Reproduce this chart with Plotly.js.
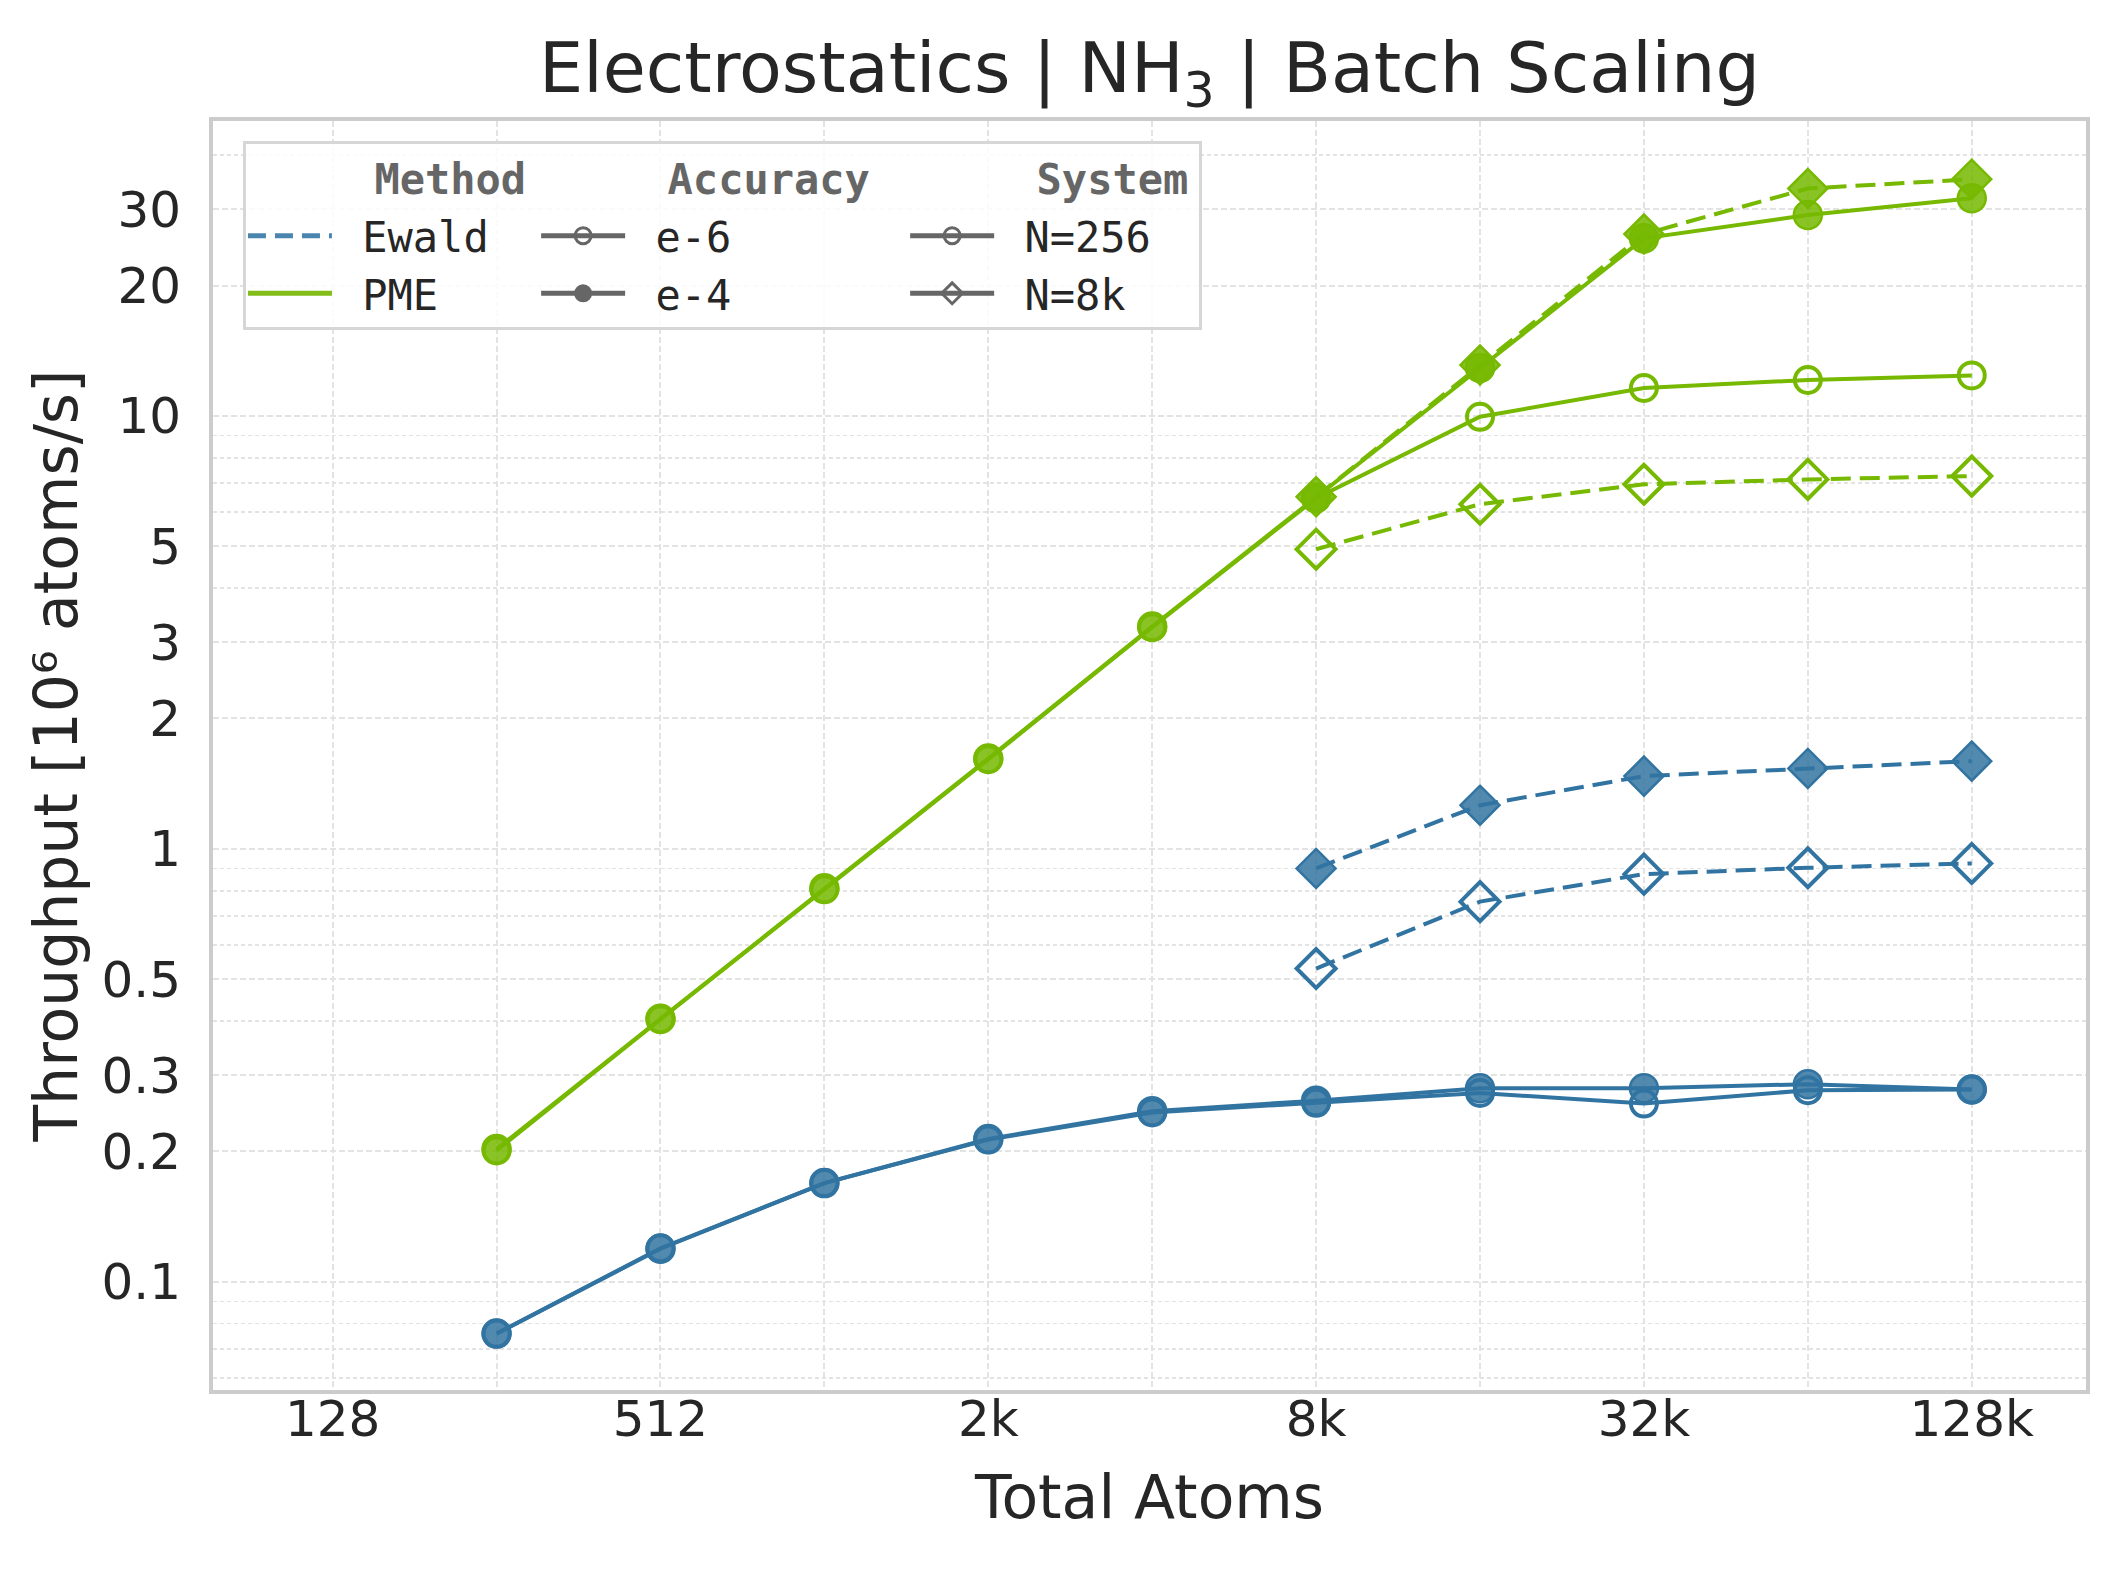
<!DOCTYPE html>
<html>
<head>
<meta charset="utf-8">
<script src="https://cdn.plot.ly/plotly-3.0.1.min.js"></script>
<style>
  html, body { margin: 0; padding: 0; background: #ffffff; }
  #plot { width: 2118px; height: 1570px; }
</style>
</head>
<body>
<div id="plot"></div>
<script>
// Total atoms (batch size x system size)
var atoms_256 = [256, 512, 1024, 2048, 4096, 8192, 16384, 32768, 65536, 131072]
var atoms_8k = [8192, 16384, 32768, 65536, 131072]

// Throughput in 10^6 atoms/s
var pme_256_e4 = [0.2025, 0.405, 0.811, 1.616, 3.26, 6.47, 12.9, 25.7, 29.1, 31.8]
var pme_256_e6 = [0.201, 0.404, 0.806, 1.61, 3.25, 6.45, 9.95, 11.6, 12.1, 12.4]
var pme_8k_e4 = [6.5, 13.1, 26.3, 33.5, 35.2]
var pme_8k_e6 = [4.92, 6.25, 6.95, 7.13, 7.26]

var ewald_256_e4 = [0.0759, 0.1192, 0.169, 0.2136, 0.2478, 0.262, 0.280, 0.280, 0.286, 0.278]
var ewald_256_e6 = [0.0759, 0.1195, 0.169, 0.213, 0.246, 0.259, 0.273, 0.258, 0.277, 0.278]
var ewald_8k_e4 = [0.901, 1.261, 1.472, 1.533, 1.594]
var ewald_8k_e6 = [0.529, 0.755, 0.874, 0.904, 0.925]

var x_tickvals = [128, 512, 2048, 8192, 32768, 131072]
var x_ticktext = ['128', '512', '2k', '8k', '32k', '128k']
var x_minorvals = [256, 1024, 4096, 16384, 65536]
var y_tickvals = [0.1, 0.2, 0.3, 0.5, 1, 2, 3, 5, 10, 20, 30]
var y_ticktext = ['0.1', '0.2', '0.3', '0.5', '1', '2', '3', '5', '10', '20', '30']
var y_minorvals = [0.06, 0.07, 0.08, 0.09, 0.4, 0.6, 0.7, 0.8, 0.9, 4, 6, 7, 8, 9, 40]

var GREEN = '#76b900'
var GREEN_FILL = 'rgba(118,185,0,0.85)'
var BLUE = '#3274a1'
var BLUE_FILL = 'rgba(50,116,161,0.85)'
var GRAY = '#666666'
var DASH = '20px,9px'

var FONT = 'DejaVu Sans, sans-serif'
var MONO = 'DejaVu Sans Mono, monospace'
var TEXT = '#262626'

function series(x, y, color, fill, dash, symbol) {
  var open = symbol.indexOf('open') >= 0
  var size = symbol.indexOf('diamond') >= 0 ? 30 : (open ? 26 : 28)
  return {
    x: x,
    y: y,
    type: 'scatter',
    mode: 'lines+markers',
    showlegend: false,
    hoverinfo: 'skip',
    line: {color: color, width: 4, dash: dash},
    marker: {
      symbol: symbol,
      size: size,
      color: open ? color : fill,
      line: {color: color, width: open ? 4 : 2.5}
    }
  }
}

// legend-only entries, one column per group
var sp = '\u00a0'
var pad = sp + sp + sp + sp + sp

function legend_entry(group, title, name, line, marker) {
  var trace = {
    x: [null],
    y: [null],
    type: 'scatter',
    mode: marker ? 'lines+markers' : 'lines',
    name: sp + name,
    legendgroup: group,
    legendgrouptitle: {text: pad + title, font: {family: MONO, size: 42, color: GRAY, weight: 'bold'}},
    line: line,
    hoverinfo: 'skip'
  }
  if (marker) trace.marker = marker
  return trace
}

var data = [
  series(atoms_256, ewald_256_e6, BLUE, BLUE_FILL, 'solid', 'circle-open'),
  series(atoms_256, ewald_256_e4, BLUE, BLUE_FILL, 'solid', 'circle'),
  series(atoms_8k, ewald_8k_e6, BLUE, BLUE_FILL, DASH, 'diamond-open'),
  series(atoms_8k, ewald_8k_e4, BLUE, BLUE_FILL, DASH, 'diamond'),
  series(atoms_256, pme_256_e6, GREEN, GREEN_FILL, 'solid', 'circle-open'),
  series(atoms_256, pme_256_e4, GREEN, GREEN_FILL, 'solid', 'circle'),
  series(atoms_8k, pme_8k_e6, GREEN, GREEN_FILL, DASH, 'diamond-open'),
  series(atoms_8k, pme_8k_e4, GREEN, GREEN_FILL, DASH, 'diamond'),

  legend_entry('method', 'Method', 'Ewald', {color: '#4a85b0', width: 5, dash: '18px,9px'}),
  legend_entry('method', 'Method', 'PME', {color: '#82bd1a', width: 5}),
  legend_entry('accuracy', 'Accuracy' + sp, 'e-6', {color: GRAY, width: 5},
               {symbol: 'circle-open', size: 16, color: GRAY, line: {width: 3}}),
  legend_entry('accuracy', 'Accuracy' + sp, 'e-4', {color: GRAY, width: 5},
               {symbol: 'circle', size: 16, color: GRAY, line: {color: GRAY, width: 2}}),
  legend_entry('system', 'System', 'N=256', {color: GRAY, width: 5},
               {symbol: 'circle-open', size: 16, color: GRAY, line: {width: 3}}),
  legend_entry('system', 'System', 'N=8k', {color: GRAY, width: 5},
               {symbol: 'diamond-open', size: 16, color: GRAY, line: {width: 3}})
]

var grid = '#e3e3e3'

var layout = {
  width: 2118,
  height: 1570,
  paper_bgcolor: '#ffffff',
  plot_bgcolor: '#ffffff',
  margin: {l: 213, r: 32, t: 121, b: 180},
  font: {family: FONT, color: TEXT, size: 50},
  title: {
    text: 'Electrostatics | NH<sub>3</sub> | Batch Scaling',
    font: {family: FONT, size: 70, color: TEXT},
    x: 0.5,
    xref: 'paper',
    xanchor: 'center',
    y: 0.957,
    yanchor: 'middle'
  },
  xaxis: {
    type: 'log',
    range: [Math.log10(Math.pow(2, 6.27)), Math.log10(Math.pow(2, 17.697))],
    tickmode: 'array',
    tickvals: x_tickvals,
    ticktext: x_ticktext,
    ticks: '',
    ticklabelstandoff: -18,
    tickfont: {family: FONT, size: 50, color: TEXT},
    showgrid: true,
    gridcolor: grid,
    gridwidth: 2,
    griddash: '6px,3px',
    minor: {tickvals: x_minorvals, showgrid: true, gridcolor: grid, gridwidth: 2, griddash: '6px,3px'},
    showline: true,
    linecolor: '#cccccc',
    linewidth: 4,
    mirror: true,
    zeroline: false,
    title: {text: 'Total Atoms', font: {family: FONT, size: 60, color: TEXT}, standoff: 30}
  },
  yaxis: {
    type: 'log',
    range: [-1.250, 1.681],
    tickmode: 'array',
    tickvals: y_tickvals,
    ticktext: y_ticktext,
    ticks: '',
    ticklabelstandoff: 18,
    tickfont: {family: FONT, size: 50, color: TEXT},
    showgrid: true,
    gridcolor: grid,
    gridwidth: 2,
    griddash: '6px,3px',
    minor: {tickvals: y_minorvals, showgrid: true, gridcolor: grid, gridwidth: 1.5, griddash: '4px,3px'},
    showline: true,
    linecolor: '#cccccc',
    linewidth: 4,
    mirror: true,
    zeroline: false,
    title: {text: 'Throughput [10\u2076 atoms/s]', font: {family: FONT, size: 60, color: TEXT}, standoff: 5}
  },
  legend: {
    orientation: 'h',
    traceorder: 'grouped',
    x: 0.016,
    y: 0.984,
    xanchor: 'left',
    yanchor: 'top',
    bgcolor: 'rgba(255,255,255,0.85)',
    bordercolor: '#d6d6d6',
    borderwidth: 3,
    font: {family: MONO, size: 42, color: TEXT},
    itemwidth: 84,
    tracegroupgap: 88
  },
  showlegend: true
}

Plotly.newPlot('plot', data, layout, {staticPlot: true})
</script>
</body>
</html>
